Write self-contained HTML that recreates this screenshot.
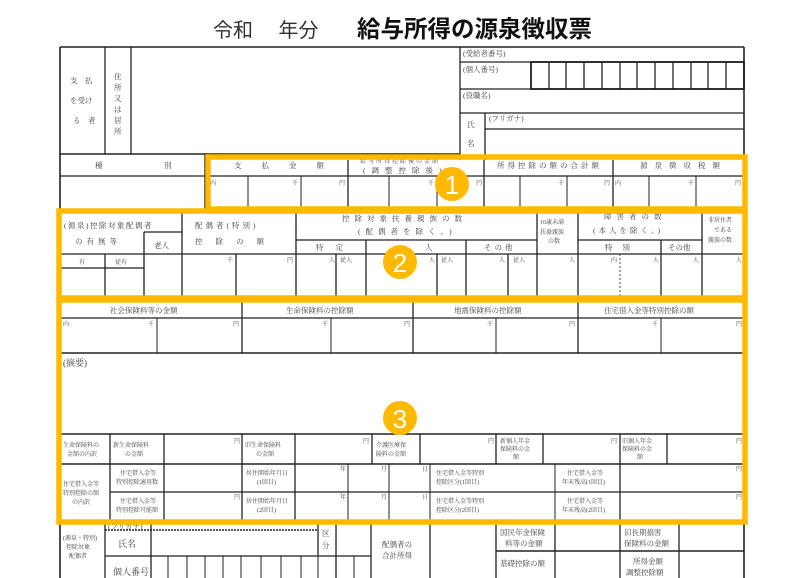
<!DOCTYPE html>
<html><head><meta charset="utf-8"><style>
html,body{margin:0;padding:0;background:#fff;}
svg{display:block;font-family:"Liberation Serif","Noto Serif CJK SC","Noto Sans CJK JP",serif;}
.t{font-size:7.5px;fill:#444;}
.s{font-size:6px;fill:#444;}
.m{font-size:9px;fill:#444;}
</style></head><body>
<svg width="800" height="578" viewBox="0 0 800 578" xmlns="http://www.w3.org/2000/svg">
<text x="213" y="37" font-size="20" fill="#333" font-family="Liberation Sans,Noto Sans CJK JP,sans-serif">令和　 年分</text>
<text x="357" y="37" font-size="23.5" font-weight="bold" fill="#111" font-family="Liberation Sans,Noto Sans CJK JP,sans-serif">給与所得の源泉徴収票</text>

<g stroke="#222" stroke-width="1.3" fill="none">
<line x1="60" y1="47" x2="744" y2="47" stroke-width="1.6"/>
<line x1="60" y1="47" x2="60" y2="578" stroke-width="1.6"/>
<line x1="744" y1="47" x2="744" y2="578" stroke-width="1.6"/>
<line x1="105" y1="47" x2="105" y2="154"/>
<line x1="131" y1="47" x2="131" y2="154"/>
<line x1="60" y1="154" x2="460" y2="154" stroke-width="1.6"/>
<line x1="460" y1="47" x2="460" y2="160"/>
<line x1="460" y1="62" x2="744" y2="62"/>
<line x1="460" y1="89" x2="744" y2="89"/>
<line x1="460" y1="113" x2="744" y2="113"/>
<line x1="485" y1="129" x2="744" y2="129"/>
<line x1="485" y1="113" x2="485" y2="160"/>
<rect x="531" y="62" width="213" height="27" stroke-width="1.8"/>
<path d="M549 62V89M566 62V89M584 62V89M602 62V89M620 62V89M637 62V89M655 62V89M673 62V89M691 62V89M708 62V89M726 62V89"/>
<line x1="60" y1="176" x2="744" y2="176"/>
<line x1="205" y1="154" x2="205" y2="210"/>
<line x1="348" y1="160" x2="348" y2="210"/>
<line x1="484" y1="160" x2="484" y2="210"/>
<line x1="613" y1="160" x2="613" y2="210"/>
<path d="M248 176V210M301 176V210M389 176V210M437 176V210M520 176V210M567 176V210M649 176V210M696 176V210" stroke-width="1"/>
<line x1="60" y1="254" x2="744" y2="254"/>
<line x1="144" y1="232" x2="182" y2="232"/>
<line x1="144" y1="232" x2="144" y2="298"/>
<line x1="105" y1="254" x2="105" y2="298"/>
<line x1="60" y1="268" x2="144" y2="268"/>
<line x1="182" y1="213" x2="182" y2="298"/>
<line x1="236" y1="254" x2="236" y2="298"/>
<line x1="296" y1="213" x2="296" y2="298"/>
<line x1="296" y1="240" x2="537" y2="240"/>
<line x1="336" y1="254" x2="336" y2="298"/>
<line x1="366" y1="240" x2="366" y2="298"/>
<line x1="437" y1="254" x2="437" y2="298"/>
<line x1="466" y1="240" x2="466" y2="298"/>
<line x1="508" y1="254" x2="508" y2="298"/>
<line x1="537" y1="213" x2="537" y2="298"/>
<line x1="578" y1="213" x2="578" y2="298"/>
<line x1="578" y1="240" x2="702" y2="240"/>
<line x1="620" y1="254" x2="620" y2="298" stroke-dasharray="2 2" stroke-width="0.8"/>
<line x1="661" y1="240" x2="661" y2="298"/>
<line x1="702" y1="213" x2="702" y2="298"/>
<line x1="60" y1="318" x2="744" y2="318"/>
<line x1="242" y1="302" x2="242" y2="353"/>
<line x1="413" y1="302" x2="413" y2="353"/>
<line x1="578" y1="302" x2="578" y2="353"/>
<path d="M157 318V353M331 318V353M496 318V353M661 318V353" stroke-width="1"/>
<line x1="60" y1="353" x2="744" y2="353" stroke-width="1.6"/>
<line x1="60" y1="434" x2="744" y2="434" stroke-width="1.6"/>
<line x1="60" y1="464" x2="744" y2="464" stroke-width="1.6"/>
<line x1="110" y1="492" x2="744" y2="492"/>
<path d="M110 434V522M164 434V522M242 434V522M295 434V522M372 434V464M420 434V464M496 434V464M543 434V464M620 434V522M667 434V464"/>
<path d="M348 464V522M389 464V522M430 464V522M555 464V522" stroke-width="1"/>
<line x1="105" y1="522" x2="105" y2="578"/>
<line x1="151" y1="522" x2="151" y2="578"/>
<line x1="105" y1="530" x2="318" y2="530" stroke-dasharray="2 1" stroke-width="1.4"/>
<line x1="105" y1="556" x2="371" y2="556"/>
<line x1="318" y1="522" x2="318" y2="556"/>
<line x1="336" y1="522" x2="336" y2="578"/>
<line x1="371" y1="522" x2="371" y2="578"/>
<path d="M168 556V578M187 556V578M205 556V578M223 556V578M241 556V578M261 556V578M281 556V578M301 556V578M318 556V578M354 556V578" stroke-width="1"/>
<line x1="430" y1="522" x2="430" y2="578"/>
<line x1="496" y1="522" x2="496" y2="578"/>
<line x1="555" y1="522" x2="555" y2="578"/>
<line x1="620" y1="522" x2="620" y2="578"/>
<line x1="679" y1="522" x2="679" y2="578"/>
<line x1="496" y1="551" x2="744" y2="551" stroke-width="1.6"/>
</g>

<text class="t" x="70" y="83">支　払</text>
<text class="t" x="70" y="103">を受け</text>
<text class="t" x="73" y="123">る　者</text>
<g class="t"><text x="114" y="79">住</text><text x="114" y="90">所</text><text x="114" y="101">又</text><text x="114" y="112">は</text><text x="114" y="123">居</text><text x="114" y="134">所</text></g>
<text class="t" x="463" y="56">(受給者番号)</text>
<text class="t" x="463" y="72">(個人番号)</text>
<text class="t" x="463" y="98">(役職名)</text>
<text class="t" x="489" y="121">(フリガナ)</text>
<text class="t" x="467" y="127">氏</text>
<text class="t" x="467" y="146">名</text>
<text class="t" x="95" y="168">種</text><text class="t" x="164" y="168">別</text>
<text class="t" x="234" y="168" letter-spacing="20">支払金額</text>
<text class="s" x="360" y="163" letter-spacing="2">給与所得控除後の金額</text>
<text class="t" x="363" y="173" letter-spacing="6">(調整控除後)</text>
<text class="t" x="497" y="168" letter-spacing="3">所得控除の額の合計額</text>
<text class="t" x="640" y="168" letter-spacing="7">源泉徴収税額</text>
<g class="s"><text x="210" y="185">内</text><text x="292" y="185">千</text><text x="339" y="185">円</text><text x="428" y="185">千</text><text x="476" y="185">円</text><text x="558" y="185">千</text><text x="604" y="185">円</text><text x="615" y="185">内</text><text x="688" y="185">千</text><text x="735" y="185">円</text></g>

<text class="t" x="64" y="228" letter-spacing="1.5">(源泉)控除対象配偶者</text>
<text class="t" x="75" y="244" letter-spacing="4">の有無等</text>
<text class="t" x="154" y="248">老人</text>
<text class="t" x="195" y="228" letter-spacing="3">配偶者(特別)</text>
<text class="t" x="195" y="244" letter-spacing="13">控除の額</text>
<text class="t" x="342" y="221" letter-spacing="5">控除対象扶養親族の数</text>
<text class="t" x="358" y="234" letter-spacing="5">(配偶者を除く。)</text>
<text class="t" x="316" y="250" letter-spacing="12">特定</text>
<text class="t" x="425" y="250">人</text>
<text class="t" x="484" y="250" letter-spacing="3">その他</text>
<text class="s" x="540" y="224">16歳未満</text><text class="s" x="540" y="234">扶養親族</text><text class="s" x="548" y="243">の数</text>
<text class="t" x="604" y="219" letter-spacing="5">障害者の数</text>
<text class="t" x="593" y="233" letter-spacing="3">(本人を除く。)</text>
<text class="t" x="605" y="250" letter-spacing="10">特別</text>
<text class="t" x="668" y="250">その他</text>
<text class="s" x="708" y="222">非居住者</text><text class="s" x="714" y="232">である</text><text class="s" x="708" y="242">親族の数</text>
<g class="s"><text x="79" y="264">有</text><text x="115" y="264">従有</text><text x="227" y="262">千</text><text x="287" y="262">円</text><text x="329" y="262">人</text><text x="340" y="262">従人</text><text x="429" y="262">人</text><text x="441" y="262">従人</text><text x="499" y="262">人</text><text x="513" y="262">従人</text><text x="569" y="262">人</text><text x="611" y="262">内</text><text x="653" y="262">人</text><text x="693" y="262">人</text><text x="736" y="262">人</text></g>

<text class="t" x="110" y="313">社会保険料等の金額</text>
<text class="t" x="286" y="313">生命保険料の控除額</text>
<text class="t" x="454" y="313">地震保険料の控除額</text>
<text class="t" x="604" y="313">住宅借入金等特別控除の額</text>
<g class="s"><text x="63" y="326">内</text><text x="148" y="326">千</text><text x="233" y="326">円</text><text x="322" y="326">千</text><text x="404" y="326">円</text><text x="487" y="326">千</text><text x="569" y="326">円</text><text x="652" y="326">千</text><text x="736" y="326">円</text></g>
<text class="m" x="63" y="366">(摘要)</text>
<g class="s">
<text x="63" y="447">生命保険料の</text><text x="67" y="456">金額の内訳</text>
<text x="113" y="447">新生命保険料</text><text x="125" y="456">の金額</text>
<text x="234" y="443">円</text>
<text x="245" y="447">旧生命保険料</text><text x="256" y="456">の金額</text>
<text x="363" y="443">円</text>
<text x="376" y="447">介護医療保</text><text x="376" y="456">険料の金額</text>
<text x="488" y="443">円</text>
<text x="500" y="443">新個人年金</text><text x="500" y="451">保険料の金</text><text x="513" y="459">額</text>
<text x="611" y="443">円</text>
<text x="622" y="443">旧個人年金</text><text x="622" y="451">保険料の金</text><text x="637" y="459">額</text>
<text x="736" y="443">円</text>
<text x="63" y="486">住宅借入金等</text><text x="63" y="495">特別控除の額</text><text x="72" y="504">の内訳</text>
<text x="120" y="475">住宅借入金等</text><text x="116" y="484">特別控除適用数</text>
<text x="120" y="503">住宅借入金等</text><text x="116" y="512">特別控除可能額</text>
<text x="234" y="499">円</text>
<text x="246" y="475">居住開始年月日</text><text x="257" y="484">(1回目)</text>
<text x="246" y="503">居住開始年月日</text><text x="257" y="512">(2回目)</text>
<text x="340" y="471">年</text><text x="381" y="471">月</text><text x="422" y="471">日</text>
<text x="340" y="499">年</text><text x="381" y="499">月</text><text x="422" y="499">日</text>
<text x="436" y="475">住宅借入金等特別</text><text x="436" y="484">控除区分(1回目)</text>
<text x="436" y="503">住宅借入金等特別</text><text x="436" y="512">控除区分(2回目)</text>
<text x="567" y="475">住宅借入金等</text><text x="562" y="484">年末残高(1回目)</text>
<text x="567" y="503">住宅借入金等</text><text x="562" y="512">年末残高(2回目)</text>
<text x="736" y="471">円</text><text x="736" y="499">円</text>
<text x="63" y="540">(源泉・特別)</text><text x="66" y="549">控除対象</text><text x="69" y="558">配偶者</text>
</g>
<g class="t">
<text x="108" y="529">(フリガナ)</text>
<text x="118" y="547" font-size="9">氏名</text>
<text x="113" y="575" font-size="9">個人番号</text>
<text x="322" y="536">区</text><text x="322" y="548">分</text>
<text x="382" y="547">配偶者の</text><text x="382" y="558">合計所得</text>
<text x="500" y="535">国民年金保険</text><text x="505" y="546">料等の金額</text>
<text x="624" y="535">旧長期損害</text><text x="624" y="546">保険料の金額</text>
<text x="500" y="566">基礎控除の額</text>
<text x="633" y="564">所得金額</text><text x="626" y="575">調整控除額</text>
</g>

<g fill="none" stroke="#FFB900" stroke-width="5.5">
<rect x="208" y="157" width="537" height="52"/>
<rect x="59" y="211" width="686" height="87"/>
<rect x="59" y="300" width="686" height="222"/>
</g>
<g font-family="Liberation Sans,sans-serif" font-size="26" fill="#fff" text-anchor="middle">
<circle cx="452" cy="184" r="17" fill="#FFB900"/><text x="452" y="194">1</text>
<circle cx="400" cy="262" r="17" fill="#FFB900"/><text x="400" y="272">2</text>
<circle cx="400" cy="418" r="17" fill="#FFB900"/><text x="400" y="428">3</text>
</g>
</svg>
</body></html>
